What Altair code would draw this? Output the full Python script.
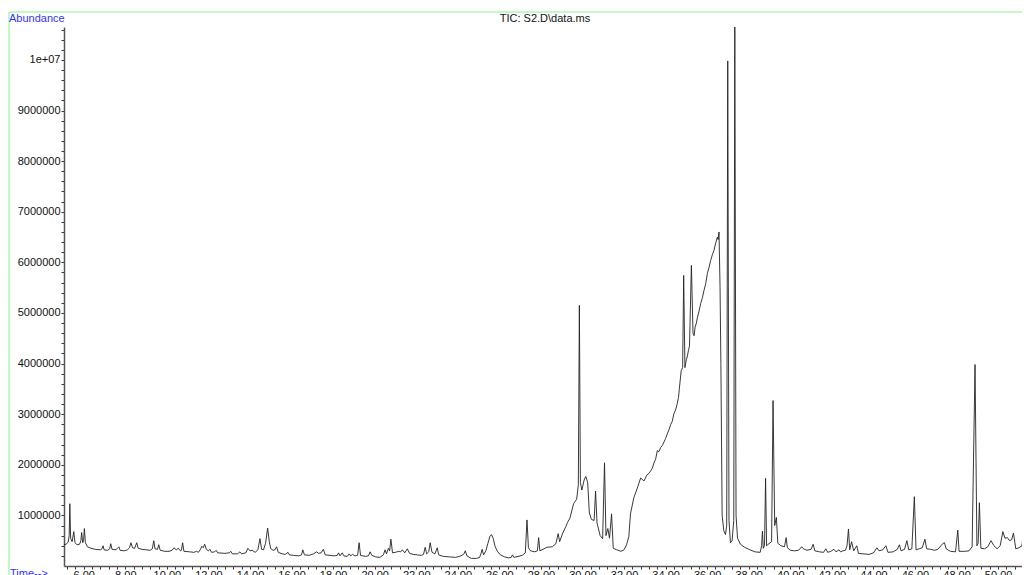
import altair as alt
import pandas as pd

# Retention time (min)
time_min = [
    5.04, 5.15, 5.25, 5.30, 5.33, 5.37, 5.44, 5.52, 5.58, 5.68, 5.80, 5.86, 5.90, 5.95, 5.99, 6.03, 6.08, 6.18, 6.35, 6.55,
    6.80, 6.88, 6.93, 6.98, 7.15, 7.25, 7.30, 7.36, 7.55, 7.69, 7.75, 7.95, 8.10, 8.20, 8.27, 8.35, 8.45, 8.55, 8.62, 8.80,
    9.00, 9.20, 9.30, 9.37, 9.43, 9.55, 9.61, 9.68, 9.90, 10.10, 10.25, 10.34, 10.45, 10.55, 10.65, 10.70, 10.76, 10.82, 11.10, 11.30,
    11.43, 11.52, 11.62, 11.68, 11.75, 11.82, 11.90, 12.00, 12.07, 12.15, 12.30, 12.37, 12.45, 12.80, 13.00, 13.08, 13.15, 13.40, 13.52, 13.60,
    13.80, 13.90, 14.00, 14.10, 14.25, 14.38, 14.48, 14.56, 14.65, 14.75, 14.85, 14.93, 15.00, 15.12, 15.20, 15.28, 15.36, 15.55, 15.70, 15.83,
    15.90, 16.10, 16.35, 16.48, 16.54, 16.62, 16.85, 17.05, 17.21, 17.30, 17.42, 17.53, 17.62, 17.85, 18.05, 18.20, 18.26, 18.33, 18.44, 18.52,
    18.68, 18.77, 18.85, 18.93, 19.05, 19.18, 19.25, 19.32, 19.55, 19.70, 19.78, 19.86, 20.05, 20.25, 20.42, 20.50, 20.57, 20.66, 20.72, 20.78,
    20.86, 21.00, 21.15, 21.25, 21.33, 21.45, 21.57, 21.68, 21.85, 22.05, 22.25, 22.35, 22.43, 22.50, 22.60, 22.67, 22.76, 22.90, 23.01, 23.08,
    23.30, 23.60, 23.90, 24.15, 24.30, 24.36, 24.44, 24.65, 24.90, 25.05, 25.12, 25.17, 25.24, 25.35, 25.45, 25.55, 25.62, 25.70, 25.80, 25.92,
    26.05, 26.25, 26.45, 26.57, 26.63, 26.70, 26.90, 27.10, 27.25, 27.33, 27.40, 27.50, 27.70, 27.83, 27.89, 27.95, 28.10, 28.30, 28.55, 28.72,
    28.83, 28.90, 29.05, 29.20, 29.28, 29.40, 29.57, 29.72, 29.80, 29.85, 29.90, 29.97, 30.08, 30.16, 30.25, 30.33, 30.43, 30.56, 30.63, 30.70,
    30.85, 30.97, 31.06, 31.13, 31.22, 31.30, 31.40, 31.48, 31.65, 31.85, 32.00, 32.12, 32.23, 32.31, 32.47, 32.64, 32.80, 32.96, 33.10, 33.20,
    33.28, 33.36, 33.45, 33.52, 33.60, 33.68, 33.76, 33.84, 33.92, 34.00, 34.08, 34.16, 34.25, 34.32, 34.40, 34.48, 34.56, 34.62, 34.66, 34.75,
    34.82, 34.87, 34.93, 35.00, 35.05, 35.10, 35.15, 35.24, 35.32, 35.37, 35.42, 35.48, 35.53, 35.60, 35.69, 35.77, 35.85, 35.93, 36.01, 36.09,
    36.17, 36.25, 36.33, 36.41, 36.49, 36.53, 36.57, 36.62, 36.66, 36.72, 36.80, 36.88, 36.94, 36.99, 37.05, 37.12, 37.20, 37.28, 37.33, 37.39,
    37.46, 37.60, 37.80, 38.00, 38.30, 38.55, 38.62, 38.66, 38.70, 38.76, 38.81, 38.86, 38.97, 39.10, 39.17, 39.25, 39.33, 39.40, 39.55, 39.72,
    39.80, 39.86, 40.00, 40.20, 40.40, 40.55, 40.63, 40.80, 41.00, 41.10, 41.18, 41.40, 41.60, 41.71, 41.80, 41.95, 42.10, 42.20, 42.34, 42.42,
    42.53, 42.65, 42.73, 42.80, 42.86, 42.95, 43.05, 43.20, 43.28, 43.50, 43.80, 44.00, 44.17, 44.27, 44.45, 44.60, 44.70, 44.95, 45.15, 45.25,
    45.33, 45.50, 45.61, 45.70, 45.85, 45.97, 46.05, 46.20, 46.35, 46.48, 46.56, 46.75, 46.95, 47.10, 47.25, 47.33, 47.42, 47.50, 47.70, 47.95,
    48.06, 48.12, 48.40, 48.60, 48.75, 48.89, 48.98, 49.04, 49.10, 49.17, 49.35, 49.50, 49.66, 49.80, 49.95, 50.10, 50.23, 50.33, 50.45, 50.55,
    50.65, 50.74, 50.85, 51.00, 51.15, 51.27, 51.35, 51.50, 51.60,
]

# TIC abundance (counts)
abundance = [
    420000, 430000, 470000, 600000, 1230000, 550000, 480000, 680000, 460000, 420000, 430000, 500000, 660000, 460000, 500000, 740000, 460000, 380000, 350000, 330000,
    320000, 340000, 400000, 320000, 310000, 340000, 440000, 330000, 320000, 380000, 310000, 300000, 320000, 360000, 460000, 360000, 350000, 460000, 350000, 330000,
    320000, 310000, 340000, 500000, 340000, 330000, 420000, 310000, 290000, 290000, 310000, 360000, 320000, 350000, 300000, 310000, 460000, 290000, 280000, 270000,
    290000, 270000, 330000, 390000, 360000, 430000, 330000, 300000, 330000, 270000, 280000, 310000, 260000, 250000, 260000, 290000, 240000, 240000, 280000, 240000,
    260000, 350000, 300000, 310000, 270000, 320000, 540000, 330000, 320000, 450000, 750000, 480000, 340000, 310000, 320000, 380000, 270000, 240000, 230000, 270000,
    220000, 210000, 200000, 220000, 320000, 220000, 210000, 240000, 280000, 250000, 260000, 330000, 220000, 210000, 200000, 210000, 260000, 200000, 260000, 200000,
    190000, 240000, 200000, 230000, 200000, 210000, 460000, 210000, 190000, 200000, 280000, 210000, 180000, 170000, 220000, 320000, 240000, 350000, 300000, 530000,
    260000, 270000, 290000, 280000, 320000, 260000, 340000, 250000, 230000, 220000, 210000, 230000, 370000, 240000, 280000, 460000, 270000, 240000, 360000, 220000,
    190000, 180000, 170000, 200000, 240000, 300000, 200000, 150000, 150000, 170000, 250000, 330000, 220000, 300000, 450000, 590000, 620000, 550000, 380000, 280000,
    220000, 180000, 160000, 170000, 220000, 170000, 190000, 210000, 260000, 910000, 360000, 300000, 280000, 300000, 560000, 300000, 330000, 370000, 380000, 440000,
    640000, 480000, 650000, 780000, 860000, 950000, 1230000, 1320000, 1600000, 5150000, 1650000, 1500000, 1700000, 1770000, 1650000, 1050000, 920000, 900000, 1480000, 850000,
    600000, 540000, 2040000, 600000, 740000, 550000, 1030000, 350000, 320000, 290000, 320000, 420000, 580000, 1030000, 1350000, 1540000, 1740000, 1680000, 1800000, 1830000,
    1880000, 1930000, 2050000, 2110000, 2280000, 2260000, 2340000, 2380000, 2450000, 2520000, 2610000, 2690000, 2800000, 2860000, 3010000, 3080000, 3210000, 3330000, 3500000, 3860000,
    3920000, 5740000, 3920000, 4080000, 4150000, 4260000, 4350000, 5940000, 4590000, 4550000, 4720000, 4800000, 4910000, 5020000, 5190000, 5300000, 5450000, 5580000, 5780000, 5900000,
    6040000, 6150000, 6240000, 6380000, 6500000, 6450000, 6600000, 5500000, 4000000, 1000000, 700000, 620000, 800000, 9980000, 900000, 460000, 500000, 900000, 10670000, 1000000,
    550000, 430000, 370000, 330000, 280000, 270000, 400000, 690000, 350000, 400000, 1730000, 400000, 440000, 480000, 3270000, 800000, 960000, 450000, 400000, 380000,
    560000, 360000, 310000, 300000, 310000, 380000, 340000, 310000, 330000, 430000, 300000, 280000, 270000, 340000, 270000, 290000, 330000, 280000, 320000, 280000,
    300000, 310000, 400000, 730000, 320000, 480000, 300000, 400000, 250000, 240000, 230000, 260000, 360000, 300000, 320000, 400000, 270000, 280000, 330000, 420000,
    300000, 330000, 500000, 320000, 340000, 1370000, 320000, 340000, 360000, 530000, 340000, 330000, 310000, 330000, 400000, 440000, 460000, 340000, 290000, 280000,
    710000, 290000, 290000, 300000, 380000, 3980000, 400000, 450000, 1250000, 350000, 340000, 380000, 500000, 400000, 340000, 400000, 680000, 550000, 560000, 500000,
    520000, 650000, 340000, 360000, 400000, 920000, 380000, 400000, 420000,
]

x_ticks = [round(5.2 + 0.4 * i, 1) for i in range(115)]
y_ticks = [200000 * i for i in range(1, 54)]

df = pd.DataFrame({"time": time_min, "abundance": abundance})

AX_FONT = "Liberation Sans"

line = alt.Chart(df).mark_line(color="#222222", strokeWidth=0.9, clip=True).encode(
    x=alt.X(
        "time:Q",
        scale=alt.Scale(domain=[5.05, 51.15], nice=False, zero=False),
        axis=alt.Axis(
            values=x_ticks,
            labelExpr="datum.value % 2 == 0 ? format(datum.value, '.2f') : ''",
            title=None, grid=False, tickSize=3, labelPadding=0,
            labelBaseline="top",
            domainColor="#555555", domainWidth=1.5, tickColor="#333333",
            labelFont=AX_FONT, labelFontSize=11, labelColor="#111111",
            labelOverlap=False, labelFlush=False,
        ),
    ),
    y=alt.Y(
        "abundance:Q",
        scale=alt.Scale(domain=[0, 10650000], nice=False, zero=False),
        axis=alt.Axis(
            values=y_ticks,
            labelExpr="datum.value % 1000000 == 0 ? (datum.value == 10000000 ? '1e+07' : format(datum.value, 'd')) : ''",
            title=None, grid=False, tickSize=3, labelPadding=1,
            domainColor="#555555", domainWidth=1.5, tickColor="#333333",
            labelFont=AX_FONT, labelFontSize=11, labelColor="#111111",
            labelOverlap=False, labelFlush=False,
        ),
    ),
)

one = alt.Chart(pd.DataFrame({"k": [0]}))

frame_top = one.mark_rule(color="#88f088", strokeWidth=1).encode(
    x=alt.value(-55), x2=alt.value(958), y=alt.value(-15), y2=alt.value(-15)
)
frame_left = one.mark_rule(color="#88f088", strokeWidth=1).encode(
    x=alt.value(-55), x2=alt.value(-55), y=alt.value(-15), y2=alt.value(560)
)
abund_lbl = one.mark_text(align="left", baseline="middle", font=AX_FONT, fontSize=11, color="#3333ff").encode(
    x=alt.value(-55), y=alt.value(-8), text=alt.value("Abundance")
)
title_lbl = one.mark_text(align="center", baseline="middle", font=AX_FONT, fontSize=11, color="#111111").encode(
    x=alt.value(481), y=alt.value(-8), text=alt.value("TIC: S2.D\\data.ms")
)
time_lbl = one.mark_text(align="left", baseline="top", font=AX_FONT, fontSize=11, color="#3333ff").encode(
    x=alt.value(-54), y=alt.value(541), text=alt.value("Time-->")
)

chart = alt.layer(line, frame_top, frame_left, abund_lbl, title_lbl, time_lbl).properties(
    width=958,
    height=539,
    padding={"left": 56, "top": 19, "right": 0, "bottom": 9},
    autosize=alt.AutoSizeParams(type="none"),
    background="white",
).configure_view(stroke=None)

chart.save("out.html", embed_options={"renderer": "svg", "actions": False})
